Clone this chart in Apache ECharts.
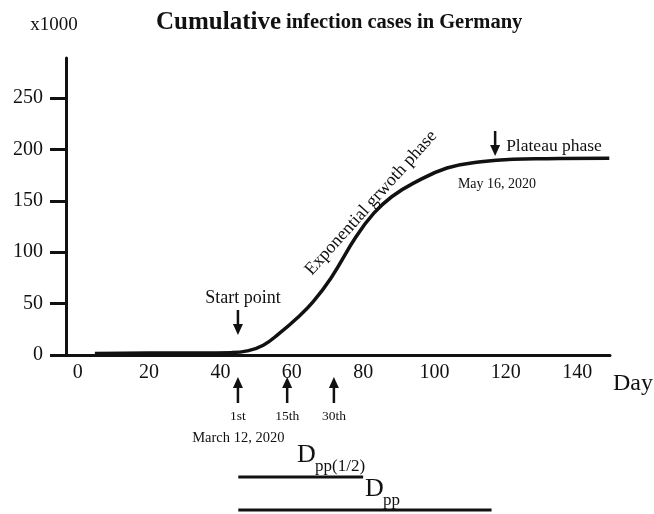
<!DOCTYPE html>
<html>
<head>
<meta charset="utf-8">
<script src="https://cdn.jsdelivr.net/npm/echarts@6/dist/echarts.min.js"></script>
<style>
html,body{margin:0;padding:0;background:#fff;}
#c{width:654px;height:514px;}
</style>
</head>
<body>
<div id="c"></div>
<script>
// ---- data ----
const days  = [4.8, 20, 34, 43, 47.5, 52, 56.5, 61.5, 66, 71, 78, 83, 88, 94, 103.5, 113, 122, 131.5, 149];
const cases = [1.5, 2, 2, 2.3, 4, 9.5, 21, 36, 52, 75, 115, 138, 154, 167, 182, 188, 190.5, 191, 191.5];
const xTicks = [0, 20, 40, 60, 80, 100, 120, 140];
const yTicks = [0, 50, 100, 150, 200, 250];
const markerDays = [44.9, 58.7, 71.8];
const markerLabels = ['1st', '15th', '30th'];
const startPointDay = 44.9;
const plateauDay = 117;
const spanStartDay = 45;
const dppHalfEndDay = 80;
const dppEndDay = 116;

const SERIF = '"Liberation Serif", "Times New Roman", serif';
const INK = '#111';

const chart = echarts.init(document.getElementById('c'), null, {renderer: 'canvas'});
chart.setOption({
  animation: false,
  backgroundColor: '#fff',
  title: {
    text: '{a|Cumulative} {b|infection cases in Germany}',
    left: 151, top: 5,
    textStyle: {
      rich: {
        a: {fontFamily: SERIF, fontWeight: 'bold', fontSize: 25, color: INK},
        b: {fontFamily: SERIF, fontWeight: 'bold', fontSize: 20.5, color: INK}
      }
    }
  },
  grid: {left: 66, right: 44, top: 58, bottom: 159, outerBoundsMode: 'none', containLabel: false},
  xAxis: {
    type: 'value', min: -3.3, max: 149.2,
    axisLine: {show: true, onZero: false, lineStyle: {color: INK, width: 3}},
    axisTick: {show: false},
    splitLine: {show: false},
    axisLabel: {customValues: xTicks, fontFamily: SERIF, fontSize: 20, color: INK, margin: 8}
  },
  yAxis: {
    type: 'value', min: 0, max: 289,
    axisLine: {show: true, onZero: false, lineStyle: {color: INK, width: 3}},
    axisTick: {show: true, customValues: yTicks, length: 16, lineStyle: {color: INK, width: 3}},
    splitLine: {show: false},
    axisLabel: {customValues: yTicks, fontFamily: SERIF, fontSize: 20, color: INK, margin: 23}
  },
  series: [{
    type: 'line',
    data: days.map((d, i) => [d, cases[i]]),
    smooth: 0.45,
    showSymbol: false,
    lineStyle: {color: INK, width: 3.5},
    z: 3
  }]
});

// ---- annotations positioned through the axes ----
const px = (d, v) => chart.convertToPixel({gridIndex: 0}, [d, v]);
const axisY = px(0, 0)[1];
const g = [];
function downArrow(x, y0, tip) {
  g.push({type: 'line', shape: {x1: x, y1: y0, x2: x, y2: tip - 6}, style: {stroke: INK, lineWidth: 2.5}});
  g.push({type: 'polygon', shape: {points: [[x - 5, tip - 11], [x + 5, tip - 11], [x, tip]]}, style: {fill: INK}});
}
function upArrow(x, tip, y1) {
  g.push({type: 'line', shape: {x1: x, y1: tip + 6, x2: x, y2: y1}, style: {stroke: INK, lineWidth: 2.5}});
  g.push({type: 'polygon', shape: {points: [[x - 5, tip + 11], [x + 5, tip + 11], [x, tip]]}, style: {fill: INK}});
}
function text(x, y, s, size, align, extra) {
  g.push(Object.assign({type: 'text', x: x, y: y, style: {text: s, fontFamily: SERIF, fontSize: size, fill: INK, align: align || 'center', verticalAlign: 'middle'}}, extra || {}));
}

// y unit label and x axis name
text(54, 25, 'x1000', 19);
text(613, 384, 'Day', 24, 'left');

// Start point
const sp = px(startPointDay, 0)[0];
text(sp + 5, 298, 'Start point', 18);
downArrow(sp, 310, axisY - 20);

// Exponential growth phase label
g.push({type: 'text', x: 371, y: 203, rotation: 48 * Math.PI / 180,
  style: {text: 'Exponential grwoth phase', fontFamily: SERIF, fontSize: 18, fill: INK, align: 'center', verticalAlign: 'middle'}});

// Plateau
const pp = px(plateauDay, 0)[0];
downArrow(pp, 131, 156);
text(pp + 11, 146, 'Plateau phase', 17.5, 'left');
text(497, 184, 'May 16, 2020', 14);

// markers below the axis
markerDays.forEach((d, i) => {
  const x = px(d, 0)[0];
  upArrow(x, axisY + 22, axisY + 48);
  text(x, axisY + 61, markerLabels[i], 13.5);
});
text(px(spanStartDay, 0)[0], axisY + 83, 'March 12, 2020', 14.5);

// D_pp spans
const x0 = px(spanStartDay, 0)[0];
const xh = px(dppHalfEndDay, 0)[0];
const xe = px(dppEndDay, 0)[0];
g.push({type: 'line', shape: {x1: x0, y1: 477, x2: xh, y2: 477}, style: {stroke: INK, lineWidth: 3}});
g.push({type: 'line', shape: {x1: x0, y1: 510, x2: xe, y2: 510}, style: {stroke: INK, lineWidth: 3}});
g.push({type: 'text', x: 297, y: 468, style: {text: 'D', fontFamily: SERIF, fontSize: 26, fill: INK, align: 'left', verticalAlign: 'bottom'}});
g.push({type: 'text', x: 315, y: 475, style: {text: 'pp(1/2)', fontFamily: SERIF, fontSize: 17, fill: INK, align: 'left', verticalAlign: 'bottom'}});
g.push({type: 'text', x: 365, y: 502, style: {text: 'D', fontFamily: SERIF, fontSize: 26, fill: INK, align: 'left', verticalAlign: 'bottom'}});
g.push({type: 'text', x: 383, y: 509, style: {text: 'pp', fontFamily: SERIF, fontSize: 17, fill: INK, align: 'left', verticalAlign: 'bottom'}});

chart.setOption({graphic: g});
</script>
</body>
</html>
